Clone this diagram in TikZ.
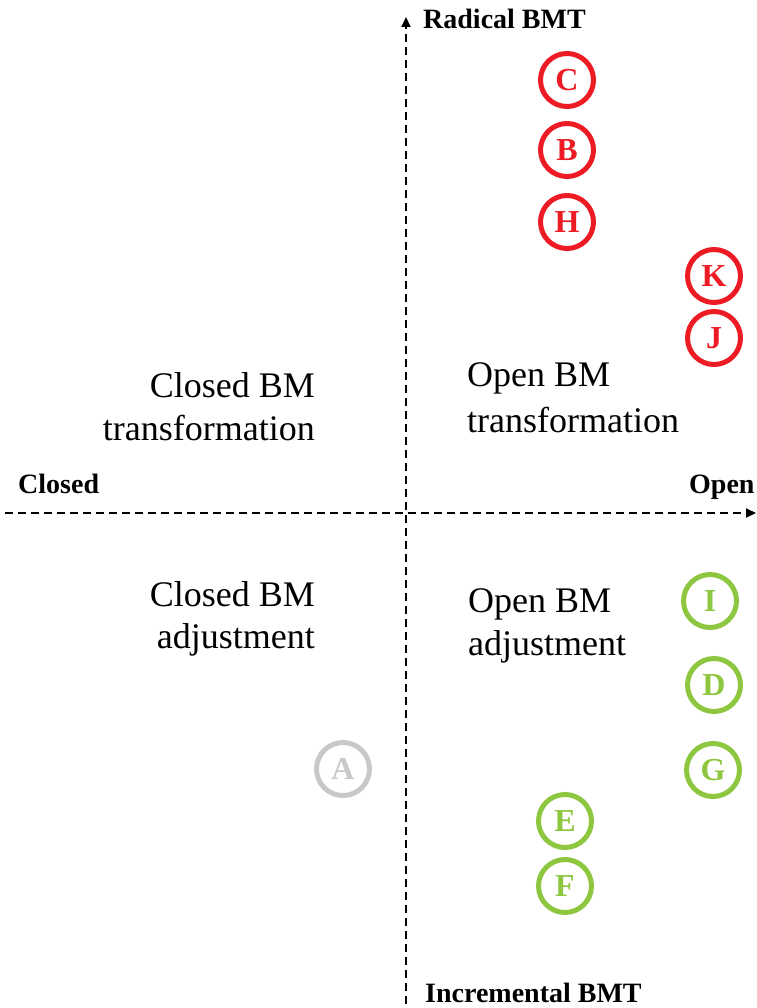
\documentclass[tikz,border=0pt]{standalone}
\usepackage{fontspec}
\setmainfont{Liberation Serif}
\usetikzlibrary{arrows.meta}
\definecolor{cred}{RGB}{237,28,36}
\definecolor{cgreen}{RGB}{141,198,63}
\definecolor{cgray}{RGB}{200,200,200}
\tikzset{
  axisline/.style={line width=2pt, dash pattern=on 8pt off 5pt, -{Triangle[length=10pt,width=9pt]}},
  axislabel/.style={font=\fontsize{28}{32}\selectfont\bfseries, inner sep=0pt},
  quadlabel/.style={font=\fontsize{36}{43}\selectfont, inner sep=0pt},
  bubble/.style={circle, draw, line width=5pt, minimum size=53pt, inner sep=0pt,
    font=\fontsize{32}{34}\selectfont\bfseries},
  redb/.style={bubble, draw=cred, text=cred},
  greenb/.style={bubble, draw=cgreen, text=cgreen},
  grayb/.style={bubble, draw=cgray, text=cgray},
}
\begin{document}
\begin{tikzpicture}[x=1pt,y=-1pt]
\useasboundingbox (0,0) rectangle (756,1008);
% axes
\coordinate (vbot) at (406,1004);
\coordinate (vtop) at (406,17);
\coordinate (hleft) at (5,513);
\coordinate (hright) at (756,513);
\draw[axisline] (vbot) -- (vtop);
\draw[axisline] (hleft) -- (hright);
% axis labels
\node[axislabel, anchor=base west] (rad) at (423,29) {Radical BMT};
\node[axislabel, anchor=base west] (inc) at (425,1002) {Incremental BMT};
\node[axislabel, anchor=base west] (clo) at (18,493) {Closed};
\node[axislabel, anchor=base west] (ope) at (689,493) {Open};
% quadrant labels
\node[quadlabel, anchor=base east] (q1a) at (315,397) {Closed BM};
\node[quadlabel, anchor=base east] (q1b) at (315,440) {transformation};
\node[quadlabel, anchor=base west] (q2a) at (467,386) {Open BM};
\node[quadlabel, anchor=base west] (q2b) at (467,432) {transformation};
\node[quadlabel, anchor=base east] (q3a) at (315,606) {Closed BM};
\node[quadlabel, anchor=base east] (q3b) at (315,648) {adjustment};
\node[quadlabel, anchor=base west] (q4a) at (468,612) {Open BM};
\node[quadlabel, anchor=base west] (q4b) at (468,655) {adjustment};
% bubbles
\node[redb] (C) at (567,80) {C};
\node[redb] (B) at (567,150) {B};
\node[redb] (H) at (567,222) {H};
\node[redb] (K) at (714,276) {K};
\node[redb] (J) at (714,338) {J};
\node[greenb] (I) at (710,601) {I};
\node[greenb] (D) at (714,685) {D};
\node[greenb] (G) at (713,770) {G};
\node[greenb] (E) at (565,821) {E};
\node[greenb] (F) at (565,886) {F};
\node[grayb] (A) at (343,769) {A};
\end{tikzpicture}
\end{document}
